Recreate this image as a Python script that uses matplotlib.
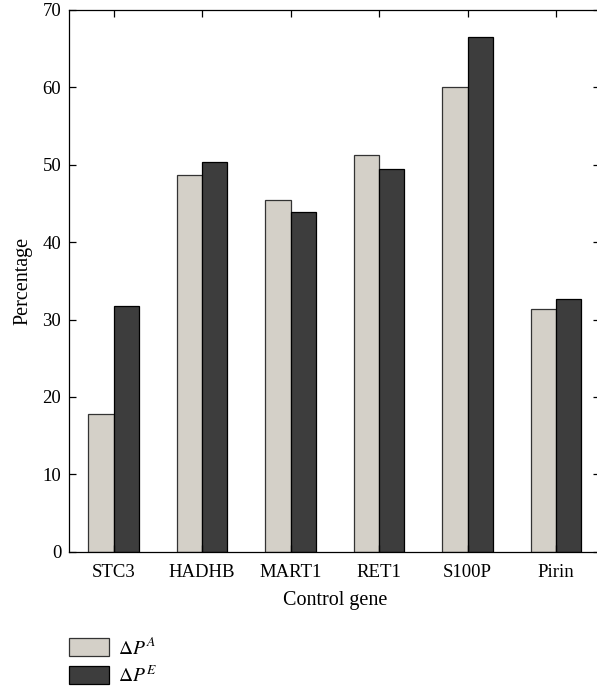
import matplotlib
matplotlib.use("Agg")
import matplotlib.pyplot as plt
import numpy as np

genes = ["STC3", "HADHB", "MART1", "RET1", "S100P", "Pirin"]
delta_pa = [17.8, 48.7, 45.4, 51.2, 60.1, 31.4]
delta_pe = [31.7, 50.3, 43.9, 49.4, 66.5, 32.6]

plt.rcParams["font.family"] = ["Liberation Serif", "DejaVu Serif"]
plt.rcParams["mathtext.fontset"] = "stix"
plt.rcParams["font.size"] = 13

light = "#d4d0c8"
dark = "#3d3d3d"


def main():
    fig = plt.figure(figsize=(5.97, 6.89), dpi=100)
    ax = fig.add_axes([0.1164, 0.1993, 0.889, 0.7862])

    x = np.arange(1, len(genes) + 1)
    w = 0.286
    ax.bar(x - w / 2, delta_pa, w, color=light, edgecolor="#333333",
           linewidth=0.9, label=r"$\Delta P^{A}$")
    ax.bar(x + w / 2, delta_pe, w, color=dark, edgecolor="black",
           linewidth=0.9, label=r"$\Delta P^{E}$")

    ax.set_xlim(0.5, 6.5)
    ax.set_ylim(0, 70)
    ax.set_yticks(range(0, 71, 10))
    ax.set_xticks(x)
    ax.set_xticklabels(genes)
    ax.tick_params(direction="in", top=True, right=True, length=5,
                   width=0.9, pad=6, labelsize=13.5)
    ax.tick_params(axis="x", pad=9)
    for s in ax.spines.values():
        s.set_linewidth(0.9)

    ax.set_ylabel("Percentage", fontsize=14.5, labelpad=7)
    ax.set_xlabel("Control gene", fontsize=14.5, labelpad=7)

    fig.legend(loc="upper left", bbox_to_anchor=(0.115, 1 - 637 / 689),
               frameon=False, borderpad=0, handlelength=2.1,
               handleheight=1.05, handletextpad=0.45, labelspacing=0.4,
               borderaxespad=0, fontsize=14)

    fig.savefig("out.png", dpi=100)
    plt.close(fig)


if __name__ == "__main__":
    main()
